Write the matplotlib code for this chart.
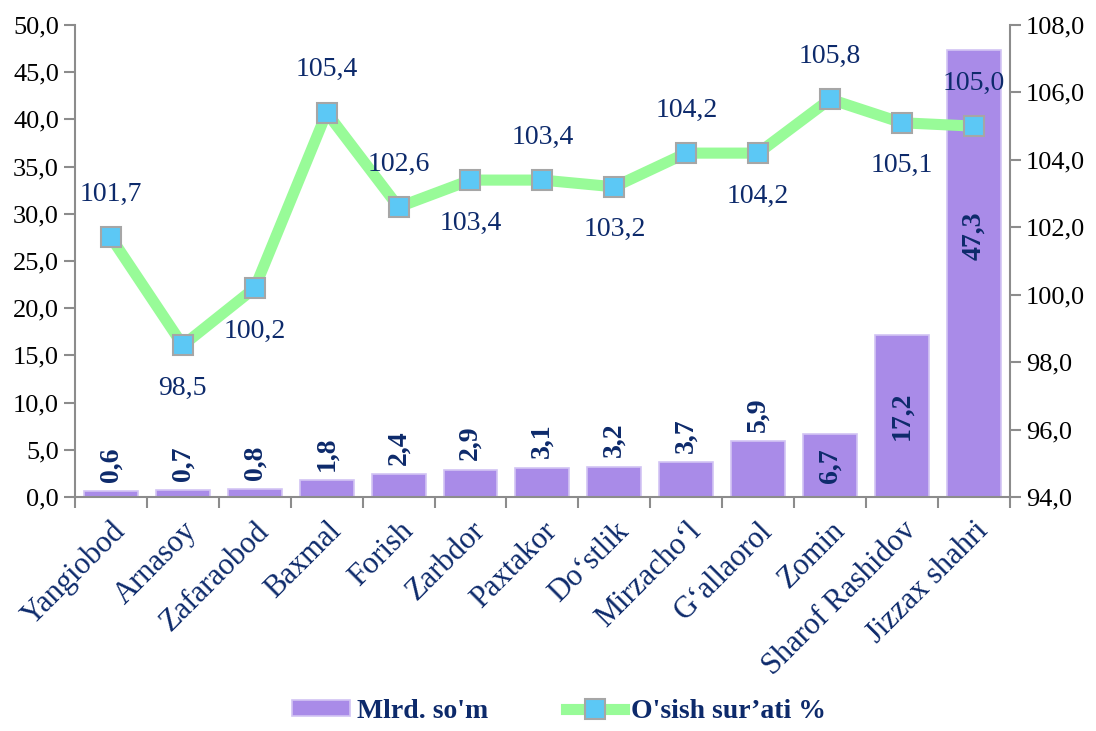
import matplotlib
matplotlib.use('Agg')
from matplotlib import pyplot as plt
from matplotlib.ticker import FuncFormatter, FixedLocator
import numpy as np

plt.rcParams['font.family'] = ['Liberation Serif', 'DejaVu Serif']

# Data
districts = ['Yangiobod', 'Arnasoy', 'Zafaraobod', 'Baxmal', 'Forish', 'Zarbdor',
             'Paxtakor', 'Do\u2018stlik', 'Mirzacho\u2018l', 'G\u2018allaorol', 'Zomin',
             'Sharof Rashidov', 'Jizzax shahri']
mlrd_som = [0.6, 0.7, 0.8, 1.8, 2.4, 2.9, 3.1, 3.2, 3.7, 5.9, 6.7, 17.2, 47.3]
growth = [101.7, 98.5, 100.2, 105.4, 102.6, 103.4, 103.4, 103.2, 104.2, 104.2,
          105.8, 105.1, 105.0]
# label above (+1) or below (-1) the point
growth_pos = [1, -1, -1, 1, 1, -1, 1, -1, 1, -1, 1, -1, 1]

navy = '#0d2a6b'
bar_col = '#a98be8'
line_col = '#98fb98'
marker_col = '#5cc8f5'
axis_col = '#8c8c8c'

comma = FuncFormatter(lambda v, p: f'{v:.1f}'.replace('.', ','))

fig = plt.figure(figsize=(10.96, 7.31), dpi=100)
ax = fig.add_axes([0.0684, 0.3201, 0.853, 0.6457])
x = np.arange(len(districts))

bars = ax.bar(x, mlrd_som, width=0.75, color=bar_col, edgecolor='#d2c4f4',
              linewidth=1.2, zorder=2, label="Mlrd. so'm")
ax.set_ylim(0, 50)
ax.set_xlim(-0.5, len(districts) - 0.5)
ax.set_yticks(np.arange(0, 50.1, 5))
ax.yaxis.set_major_formatter(comma)

# bar value labels: small bars above, tall bars inside
for xi, v in zip(x, mlrd_som):
    txt = f'{v:.1f}'.replace('.', ',')
    if v > 6:
        ypos = v / 2 if v < 20 else v * 0.585
        ax.text(xi, ypos, txt, rotation=90, ha='center', va='center',
                fontsize=20, fontweight='bold', color=navy, zorder=5)
    else:
        ax.text(xi, v + 1.0, txt, rotation=90, ha='center', va='bottom',
                fontsize=20, fontweight='bold', color=navy, zorder=5)

ax2 = ax.twinx()
ax2.plot(x, growth, color=line_col, linewidth=8, solid_joinstyle='round',
         marker='s', markersize=15, markerfacecolor=marker_col,
         markeredgecolor='#a6a6a6', markeredgewidth=1.5, zorder=3,
         label="O'sish sur\u2019ati %")
ax2.set_ylim(94, 108)
ax2.set_yticks(np.arange(94, 108.1, 2))
ax2.yaxis.set_major_formatter(comma)

for xi, v, pos in zip(x, growth, growth_pos):
    ax2.annotate(f'{v:.1f}'.replace('.', ','), (xi, v), xytext=(0, 31 * pos),
                 textcoords='offset points', ha='center', va='center',
                 fontsize=20, color=navy)

# axis styling
for a in (ax, ax2):
    a.spines['top'].set_visible(False)
    for s in ('left', 'right', 'bottom'):
        a.spines[s].set_color(axis_col)
        a.spines[s].set_linewidth(1.5)
ax.spines['right'].set_visible(False)
ax2.spines['left'].set_visible(False)
ax2.spines['bottom'].set_visible(False)

ax.tick_params(axis='y', colors=axis_col, length=8, width=1.5, labelsize=19,
               labelcolor='black', direction='out')
ax2.tick_params(axis='y', colors=axis_col, length=8, width=1.5, labelsize=19,
                labelcolor='black', direction='out')

ax.set_xticks(x)
ax.set_xticklabels(districts, rotation=45, ha='right', rotation_mode='anchor',
                   fontsize=22, color=navy)
ax.tick_params(axis='x', which='major', length=0, pad=14)
ax.xaxis.set_minor_locator(FixedLocator(np.arange(-0.5, len(districts), 1.0)))
ax.tick_params(axis='x', which='minor', length=8, width=1.5, color=axis_col)

h1, l1 = ax.get_legend_handles_labels()
h2, l2 = ax2.get_legend_handles_labels()
leg = fig.legend(h1 + h2, l1 + l2, loc='lower center', bbox_to_anchor=(0.51, -0.025),
                 ncol=2, frameon=False, columnspacing=2.8, handlelength=2.1,
                 handleheight=0.5, handletextpad=0.25,
                 prop={'size': 20, 'weight': 'bold'})
for t in leg.get_texts():
    t.set_color(navy)

fig.savefig('out.png', dpi=100)
